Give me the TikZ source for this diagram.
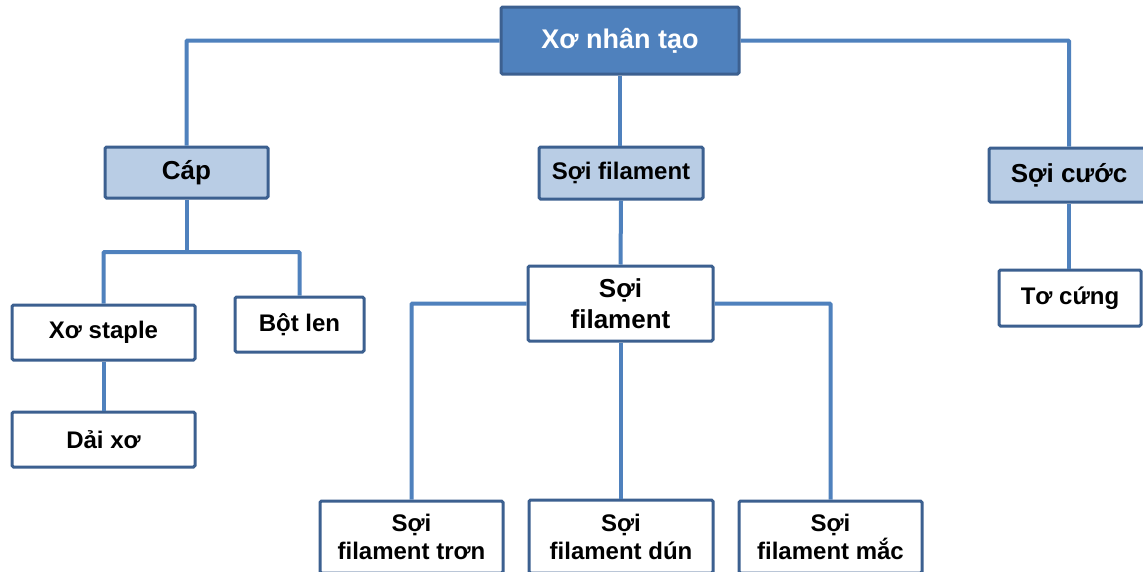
\documentclass[tikz,border=0pt]{standalone}
\usepackage{fontspec}
\setmainfont{Liberation Sans}
\definecolor{conn}{HTML}{4F81BD}
\definecolor{boxline}{HTML}{3C6090}
\definecolor{topfill}{HTML}{4F81BD}
\definecolor{lightfill}{HTML}{B9CDE5}
\begin{document}
\begin{tikzpicture}[x=1pt,y=-1pt,
  basebox/.style={draw=boxline, line width=3pt, rounded corners=1.5pt, inner sep=0pt,
    align=center, font=\bfseries\fontsize{24}{28}\selectfont},
  topbox/.style={basebox, fill=topfill, text=white, font=\bfseries\fontsize{27}{31}\selectfont},
  midbox/.style={basebox, fill=lightfill},
  leafbox/.style={basebox, fill=white},
  link/.style={draw=conn, line width=4pt, rounded corners=1pt}
]
\useasboundingbox (0,0) rectangle (1143,573);
\fill[white] (0,0) rectangle (1143,573);
\clip (0,0) rectangle (1143,571.4);

% nodes
\node[topbox, minimum width=238pt, minimum height=67pt] (top) at (620,40.5) {Xơ nhân tạo};
\node[midbox, minimum width=163pt, minimum height=51pt, font=\bfseries\fontsize{26}{30}\selectfont] (cap) at (186.5,172.5) {Cáp};
\node[midbox, minimum width=164pt, minimum height=52pt] (sf1) at (621,173) {Sợi filament};
\node[midbox, minimum width=160pt, minimum height=54pt, font=\bfseries\fontsize{26}{30}\selectfont] (sc) at (1069,175) {Sợi cước};
\node[leafbox, minimum width=183pt, minimum height=55pt] (xs) at (103.5,332.5) {Xơ staple};
\node[leafbox, minimum width=129pt, minimum height=55pt] (bl) at (299.5,324.5) {Bột len};
\node[leafbox, minimum width=183pt, minimum height=55pt] (dx) at (103.5,439.5) {Dải xơ};
\node[leafbox, minimum width=185pt, minimum height=75pt, font=\bfseries\fontsize{26}{31}\selectfont] (sf2) at (620.5,303.5) {Sợi\\filament};
\node[leafbox, minimum width=142pt, minimum height=56pt] (tc) at (1070,298) {Tơ cứng};
\node[leafbox, minimum width=183pt, minimum height=72pt] (tr) at (411.5,537) {Sợi\\filament trơn};
\node[leafbox, minimum width=184pt, minimum height=73pt] (dn) at (621,536.5) {Sợi\\filament dún};
\node[leafbox, minimum width=183pt, minimum height=72pt] (mc) at (830.5,537) {Sợi\\filament mắc};

\coordinate (capbus) at (186.5,252);

% connectors
\draw[link] (top.west) -| (cap.north);
\draw[link] (top.east) -| (sc.north);
\draw[link] (top.south) -- (sf1.north -| top.south);
\draw[link] (cap.south) -- (capbus);
\draw[link] (xs.north) |- (capbus) -| (bl.north);
\draw[link] (xs.south) -- (dx.north);
\draw[link] (sf1.south) -- (sf2.north);
\draw[link] (sf2.west) -| (tr.north);
\draw[link] (sf2.east) -| (mc.north);
\draw[link] (sf2.south) -- (dn.north -| sf2.south);
\draw[link] (sc.south) -- (tc.north -| sc.south);
\end{tikzpicture}
\end{document}
